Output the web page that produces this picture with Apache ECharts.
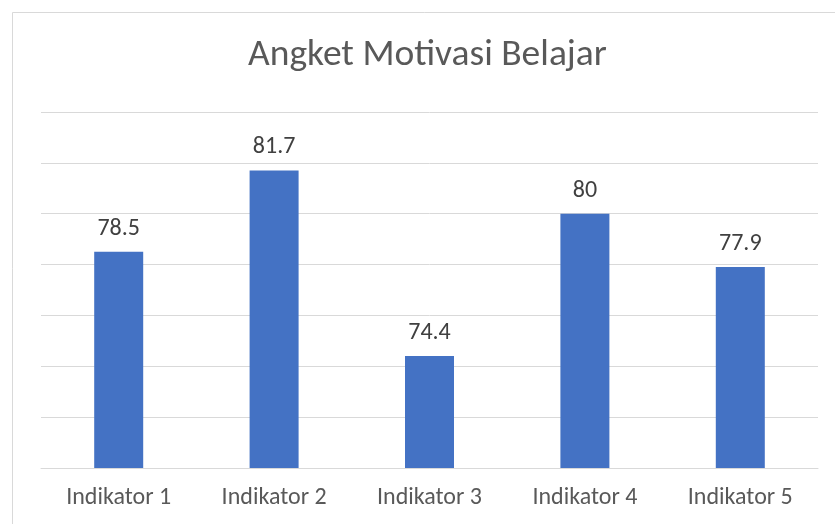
<!DOCTYPE html>
<html>
<head>
<meta charset="utf-8">
<script src="https://cdn.jsdelivr.net/npm/echarts@6/dist/echarts.min.js"></script>
<style>html,body{margin:0;padding:0;background:#fff}#c{width:835px;height:524px}</style>
</head>
<body>
<div id="c"></div>
<script>
var categories = ["Indikator 1", "Indikator 2", "Indikator 3", "Indikator 4", "Indikator 5"];
var values = [78.5, 81.7, 74.4, 80, 77.9];
var labels = ["78.5", "81.7", "74.4", "80", "77.9"];
var titleText = "Angket Motivasi Belajar";

var chart = echarts.init(document.getElementById('c'), null, {renderer: 'canvas'});
var font = "Carlito, 'Open Sans', 'Liberation Sans', sans-serif";
chart.setOption({
  backgroundColor: '#fff',
  animation: false,
  title: {
    text: titleText, left: 248, top: 37, padding: 0,
    textStyle: {fontFamily: font, fontSize: 37.5, fontWeight: 'normal', color: '#595959'}
  },
  graphic: [{
    type: 'rect', shape: {x: 12.5, y: 12.5, width: 840, height: 530},
    style: {fill: 'none', stroke: '#d9d9d9', lineWidth: 1}, silent: true
  }],
  grid: {left: 41, right: 17, top: 112, bottom: 56},
  xAxis: {
    type: 'category', data: categories,
    axisLine: {show: true, lineStyle: {color: '#d9d9d9', width: 1}},
    axisTick: {show: false},
    axisLabel: {fontFamily: font, fontSize: 24, color: '#595959', margin: 18}
  },
  yAxis: {
    type: 'value', min: 70, max: 84, interval: 2,
    axisLine: {show: false}, axisTick: {show: false}, axisLabel: {show: false},
    splitLine: {lineStyle: {color: '#d9d9d9', width: 1}}
  },
  series: [{
    type: 'bar', data: values, barWidth: 49,
    itemStyle: {color: '#4472c4'},
    label: {
      show: true, position: 'top', distance: 11,
      fontFamily: font, fontSize: 24, color: '#404040',
      formatter: function (p) { return labels[p.dataIndex]; }
    }
  }]
});
</script>
</body>
</html>
